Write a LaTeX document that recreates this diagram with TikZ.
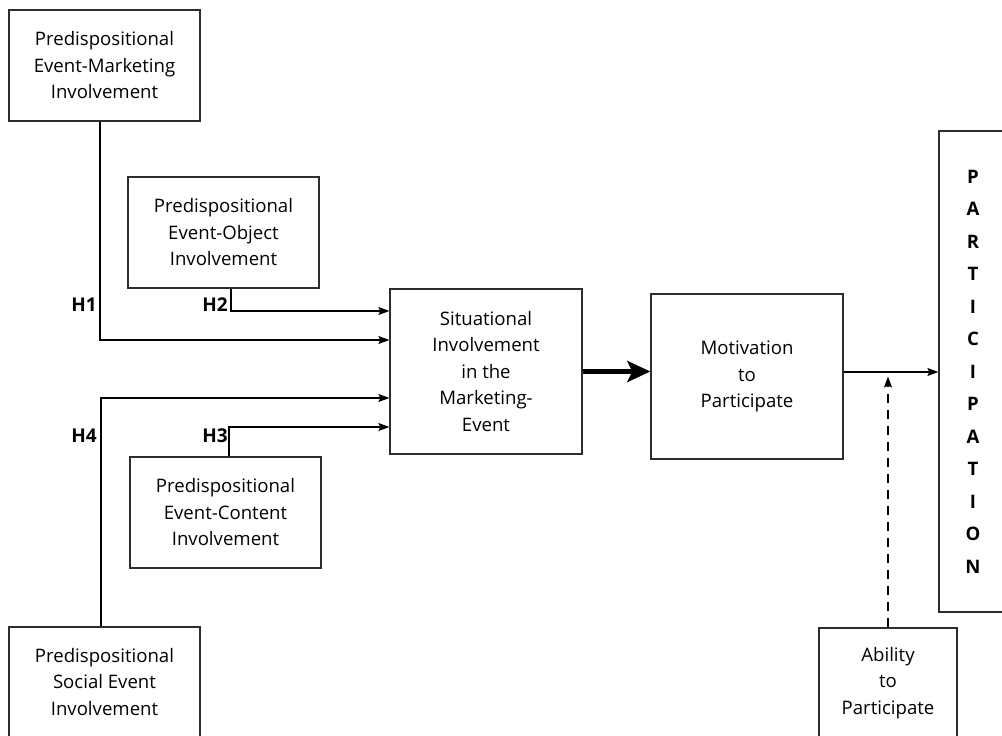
\documentclass[tikz,border=0pt]{standalone}
\usepackage{fontspec}
\setmainfont{Open Sans}
\usepackage{tikz}
\usetikzlibrary{arrows.meta,positioning,calc}
\definecolor{boxgray}{RGB}{45,45,45}

\begin{document}
\begin{tikzpicture}[x=1pt, y=-1pt,
    box/.style={rectangle, draw=boxgray, line width=1.3pt, inner sep=0pt,
                minimum width=191pt, minimum height=111pt, align=center,
                font=\fontsize{18.6}{26.5}\selectfont},
    hlab/.style={anchor=east, inner sep=0pt, font=\fontsize{19}{20}\selectfont\bfseries},
    arr/.style={-{Stealth[length=11pt, width=8pt, inset=2pt]}, line width=1.2pt},
    bigarr/.style={-{Stealth[length=23pt, width=21pt, inset=5pt]}, line width=4.5pt},
    dasharr/.style={arr, dash pattern=on 9pt off 7pt}
]
    \useasboundingbox (0,0) rectangle (1002,736);

    % predispositional involvement
    \node[box] (pemi) at (104.5,65.5) {Predispositional\\Event-Marketing\\Involvement};
    \node[box] (peoi) at (223.5,232.5) {Predispositional\\Event-Object\\Involvement};
    \node[box] (peci) at (225.5,512.5) {Predispositional\\Event-Content\\Involvement};
    \node[box, minimum height=110pt] (psei) at (104.5,682) {Predispositional\\Social Event\\Involvement};

    % situational -> motivation -> participation
    \node[box, minimum width=192pt, minimum height=165pt] (sit) at (486,371.5) {Situational\\Involvement\\in the\\Marketing-\\Event};
    \node[box, minimum width=192pt, minimum height=165pt] (mot) at (747,376.5) {Motivation\\to\\Participate};
    \node[box, minimum width=68pt, minimum height=481pt, font=\fontsize{18.6}{32.5}\selectfont\bfseries] (part) at (973,371.5)
        {P\\A\\R\\T\\I\\C\\I\\P\\A\\T\\I\\O\\N};
    \node[box, minimum width=138pt, minimum height=110pt] (abil) at (888,683) {Ability\\to\\Participate};

    % hypothesis labels
    \node[hlab] (h1) at (97,305) {H1};
    \node[hlab] (h2) at (228,305) {H2};
    \node[hlab] (h4) at (97,436) {H4};
    \node[hlab] (h3) at (228,436) {H3};

    \draw[arr] ([xshift=-4.5pt]pemi.south) |- ([yshift=31.5pt]sit.west);
    \draw[arr] ([xshift=7.5pt]peoi.south) |- ([yshift=60.5pt]sit.west);
    \draw[arr] ([xshift=3.5pt]peci.north) |- ([yshift=-55.5pt]sit.west);
    \draw[arr] ([xshift=-3.5pt]psei.north) |- ([yshift=-26.5pt]sit.west);

    \draw[bigarr] (sit.east) -- (sit.east -| mot.west);
    \draw[arr] ([yshift=4.5pt]mot.east) -- ([yshift=4.5pt]mot.east -| part.west);
    \draw[dasharr] (abil.north) -- (abil.north |- mot.east);
\end{tikzpicture}
\end{document}
